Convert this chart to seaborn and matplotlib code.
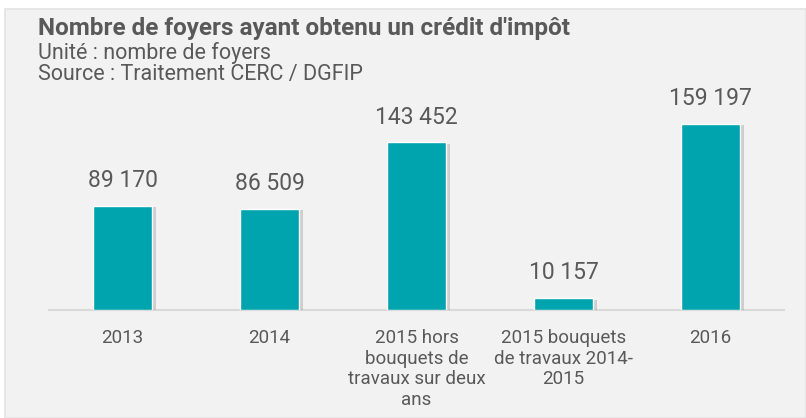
import matplotlib
matplotlib.use("Agg")
import matplotlib.pyplot as plt
import matplotlib.patheffects as pe
from matplotlib.patches import Rectangle
import seaborn as sns
import pandas as pd

categories = ["2013", "2014", "2015 hors\nbouquets de\ntravaux sur deux\nans",
              "2015 bouquets\nde travaux 2014-\n2015", "2016"]
values = [89170, 86509, 143452, 10157, 159197]
value_labels = ["89 170", "86 509", "143 452", "10 157", "159 197"]

title = "Nombre de foyers ayant obtenu un crédit d'impôt"
subtitle1 = "Unité : nombre de foyers"
subtitle2 = "Source : Traitement CERC / DGFIP"

sns.set_theme(style="white")
plt.rcParams["font.family"] = ["Roboto", "DejaVu Sans"]

W, H = 806, 418
fig = plt.figure(figsize=(W / 100, H / 100), dpi=100)
fig.patch.set_facecolor("white")
panel = Rectangle((5 / W, 0), (W - 5) / W, (H - 9) / H, transform=fig.transFigure,
                  facecolor="#F2F2F2", edgecolor="#E3E3E3", linewidth=1.2, zorder=-10)
fig.add_artist(panel)

text_color = "#595959"
bar_color = "#00A4AF"

# axes: x from 49 to 784 px, baseline at y=310, top at y=100
left, right = 49, 784
bottom_y, top_y = 310, 100
ax = fig.add_axes([left / W, (H - bottom_y) / H, (right - left) / W, (bottom_y - top_y) / H])
ax.set_facecolor("none")
ax.set_zorder(1)

df = pd.DataFrame({"cat": categories, "val": values})
sns.barplot(data=df, x="cat", y="val", color=bar_color, width=0.4, saturation=1,
            ax=ax, zorder=3)
for p in ax.patches:
    p.set_path_effects([pe.SimplePatchShadow(offset=(3, -1), shadow_rgbFace="#999999", alpha=0.4),
                        pe.Normal()])

ymax = 159197 * (bottom_y - top_y) / (bottom_y - 124)
ax.set_ylim(0, ymax)
ax.set_xlim(-0.5, len(categories) - 0.5)

for i, (v, lab) in enumerate(zip(values, value_labels)):
    ax.annotate(lab, (i, v), xytext=(0, 10), textcoords="offset points",
                ha="center", va="bottom", fontsize=16.5, color=text_color)

for s in ["top", "right", "left"]:
    ax.spines[s].set_visible(False)
ax.spines["bottom"].set_color("#D9D9D9")
ax.spines["bottom"].set_linewidth(1.5)
ax.set_yticks([])
ax.set_xlabel("")
ax.set_ylabel("")
ax.tick_params(axis="x", length=0, pad=14, labelsize=13.5, labelcolor=text_color)
for t in ax.get_xticklabels():
    t.set_linespacing(1.18)

fig.text(38 / W, 1 - 17 / H, title, fontsize=17.5, fontweight="bold", color=text_color,
         ha="left", va="top")
fig.text(38 / W, 1 - 42 / H, subtitle1, fontsize=15.5, color=text_color, ha="left", va="top")
fig.text(38 / W, 1 - 64 / H, subtitle2, fontsize=15.5, color=text_color, ha="left", va="top")

fig.savefig("out.png", dpi=100, facecolor=fig.get_facecolor())
